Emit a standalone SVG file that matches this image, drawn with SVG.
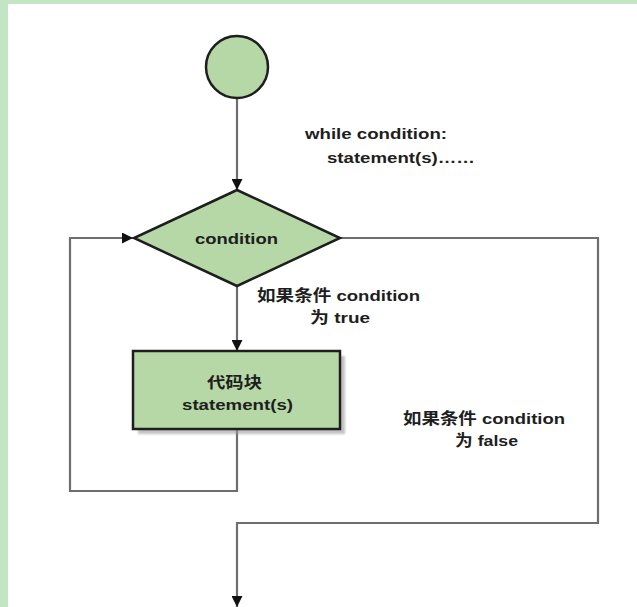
<svg xmlns="http://www.w3.org/2000/svg" width="637" height="607" viewBox="0 0 637 607">
<defs>
<style>
.node{fill:#b5d8a6;stroke:#1e1e1e;stroke-width:2.5}
.edge{fill:none;stroke:#6e6e6e;stroke-width:2.2}
.t{font-family:"Liberation Sans","Noto Sans CJK SC",Arial,sans-serif;font-weight:bold;fill:#1e1e1e;font-size:15.5px}
</style>
<marker id="ah" viewBox="0 0 10 10" refX="10" refY="5" markerWidth="5" markerHeight="5" orient="auto" markerUnits="strokeWidth">
<path d="M0,0 L10,5 L0,10 z" fill="#111"/>
</marker>
<filter id="sh" x="-10%" y="-10%" width="130%" height="140%">
<feGaussianBlur stdDeviation="1"/>
</filter>
</defs>
<rect x="0" y="0" width="637" height="607" fill="#ffffff"/>
<rect x="0" y="0" width="637" height="4" fill="#c2e6c4"/>
<rect x="0" y="0" width="8" height="607" fill="#c2e6c4"/>
<g id="connectors">
<line class="edge" x1="237" y1="97" x2="237" y2="190" marker-end="url(#ah)"/>
<line class="edge" x1="237" y1="286" x2="237" y2="351" marker-end="url(#ah)"/>
<polyline class="edge" points="237,429 237,491 70,491 70,238 133,238" marker-end="url(#ah)"/>
<polyline class="edge" points="340,238 598,238 598,523 237,523 237,607" marker-end="url(#ah)"/>
</g>
<g id="start">
<circle class="node" cx="237" cy="67" r="31"/>
</g>
<g id="note">
<text class="t" x="305" y="139" textLength="142" lengthAdjust="spacingAndGlyphs">while condition:</text>
<text class="t" x="327" y="163" textLength="148" lengthAdjust="spacingAndGlyphs">statement(s)……</text>
</g>
<g id="condition">
<polygon class="node" points="237,190 340,238 237,286 134,238"/>
<text class="t" x="195" y="244" textLength="83" lengthAdjust="spacingAndGlyphs">condition</text>
</g>
<g id="label-true">
<text class="t" x="257" y="301" textLength="163" lengthAdjust="spacingAndGlyphs">如果条件 condition</text>
<text class="t" x="310" y="323" textLength="60" lengthAdjust="spacingAndGlyphs">为 true</text>
</g>
<g id="block">
<rect x="138" y="356" width="207" height="78" fill="#9a9a9a" opacity="0.6" filter="url(#sh)"/>
<rect class="node" x="133" y="351" width="207" height="78"/>
<text class="t" x="207" y="388" textLength="55" lengthAdjust="spacingAndGlyphs">代码块</text>
<text class="t" x="182" y="410" textLength="111" lengthAdjust="spacingAndGlyphs">statement(s)</text>
</g>
<g id="label-false">
<text class="t" x="403" y="424" textLength="162" lengthAdjust="spacingAndGlyphs">如果条件 condition</text>
<text class="t" x="455" y="446" textLength="63" lengthAdjust="spacingAndGlyphs">为 false</text>
</g>
</svg>
